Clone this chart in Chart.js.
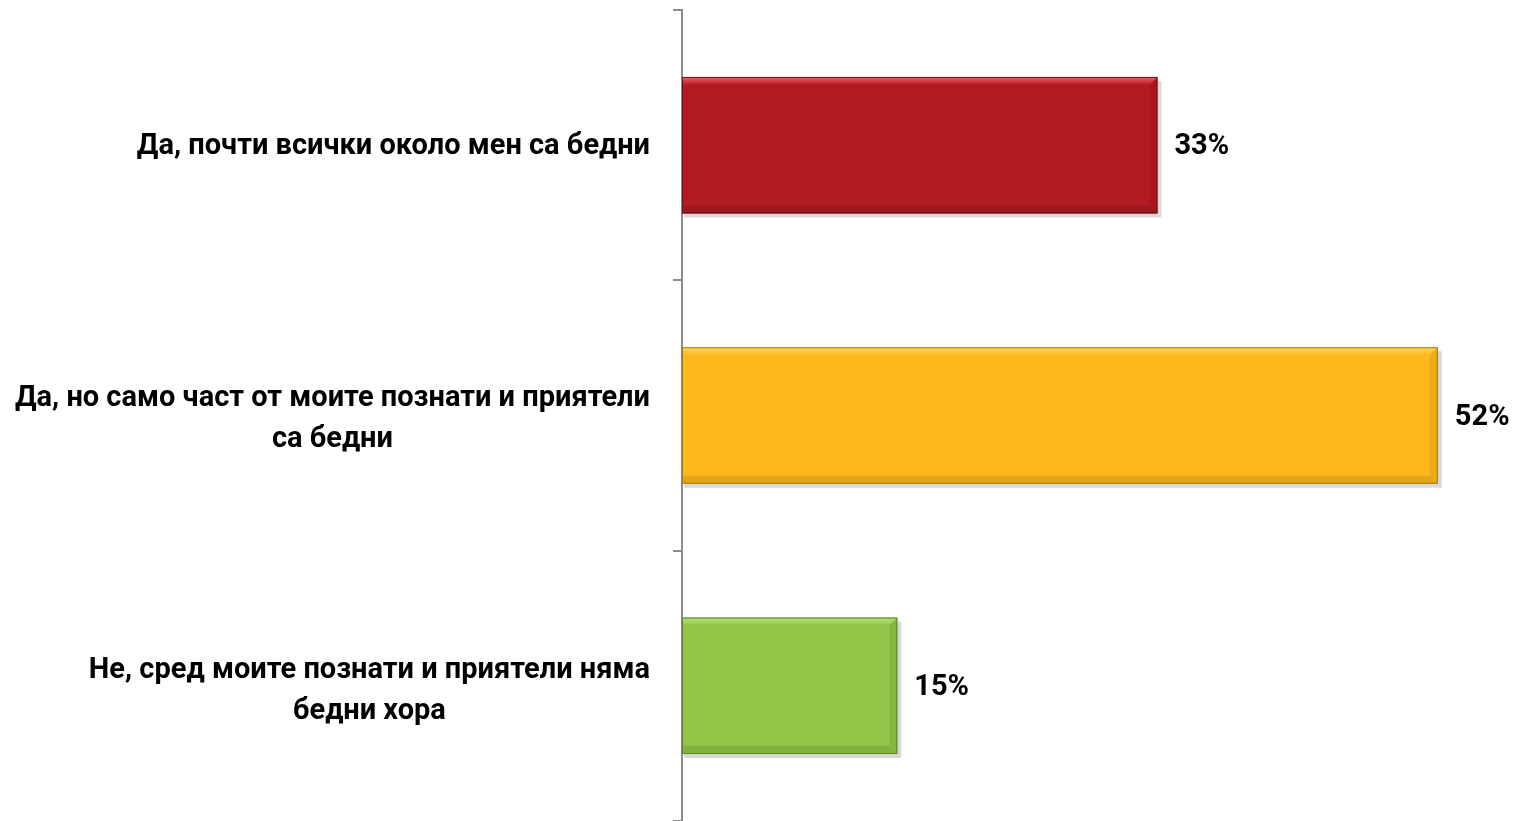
<!DOCTYPE html>
<html>
<head>
<meta charset="utf-8">
<title>Бедни хора</title>
<script src="https://cdn.jsdelivr.net/npm/chart.js@4/dist/chart.umd.min.js"></script>
<style>
  html, body { margin: 0; padding: 0; background: #ffffff; }
  #wrap { width: 1516px; height: 821px; position: relative; }
</style>
</head>
<body>
<div id="wrap"><canvas id="chart"></canvas></div>
<script>
// categories (each one is an array of the lines the label is wrapped into)
const categories = [
  ["Да, почти всички около мен са бедни"],
  ["Да, но само част от моите познати и приятели", "са бедни"],
  ["Не, сред моите познати и приятели няма", "бедни хора"]
]
// percent values for every answer (bar lengths)
const values = [32.9, 52.3, 14.9]
// value labels shown next to the bars
const valueLabels = ["33%", "52%", "15%"]
// fill colours of the bars, then the lighter top edge and darker bottom edge
const barColors = ["#B41A22", "#FDB81E", "#92C548"]
const lightEdge = ["#F0646A", "#FFD663", "#B9E37F"]
const darkEdge = ["#6E0F14", "#A87806", "#5B8726"]

const labelFont = "bold 29px Roboto, 'Open Sans', sans-serif"

// plugin: draws the bevel look on the bars, the category labels and the % labels
const drawStuff = {
  id: "drawStuff",
  beforeDatasetsDraw(chart) {
    // soft shadow under the bars
    const ctx = chart.ctx
    const meta = chart.getDatasetMeta(0)
    ctx.save()
    meta.data.forEach((bar, i) => {
      const h = bar.height
      ctx.fillStyle = "rgba(0,0,0,0.15)"
      ctx.fillRect(bar.base + 2, bar.y - h / 2 + 4, bar.x - bar.base + 2, h)
    })
    ctx.restore()
  },
  afterDatasetsDraw(chart) {
    const ctx = chart.ctx
    const meta = chart.getDatasetMeta(0)
    ctx.save()
    meta.data.forEach((bar, i) => {
      const h = bar.height
      const top = bar.y - h / 2
      const left = bar.base
      const right = bar.x
      const e = 8 // bevel size
      // top bevel, light fading into the bar colour
      const g = ctx.createLinearGradient(0, top, 0, top + e)
      g.addColorStop(0, lightEdge[i])
      g.addColorStop(1, barColors[i])
      ctx.fillStyle = g
      ctx.beginPath()
      ctx.moveTo(left, top); ctx.lineTo(right, top); ctx.lineTo(right - e, top + e); ctx.lineTo(left, top + e)
      ctx.closePath(); ctx.fill()
      // bottom bevel
      ctx.globalAlpha = 0.3
      ctx.fillStyle = darkEdge[i]
      ctx.beginPath()
      ctx.moveTo(left, top + h); ctx.lineTo(right, top + h); ctx.lineTo(right - e, top + h - e); ctx.lineTo(left, top + h - e)
      ctx.closePath(); ctx.fill()
      // right bevel
      ctx.globalAlpha = 0.2
      ctx.beginPath()
      ctx.moveTo(right, top); ctx.lineTo(right, top + h); ctx.lineTo(right - e, top + h - e); ctx.lineTo(right - e, top + e)
      ctx.closePath(); ctx.fill()
      ctx.globalAlpha = 1
      ctx.strokeStyle = darkEdge[i]
      ctx.lineWidth = 1
      ctx.strokeRect(left + 0.5, top + 0.5, right - left - 1, h - 1)

      // value label
      ctx.fillStyle = "#000000"
      ctx.font = labelFont
      ctx.textAlign = "left"
      ctx.textBaseline = "middle"
      ctx.fillText(valueLabels[i], right + 17, bar.y + 2)
    })

    // category labels: each block right aligned to the axis, lines centred inside it
    const yScale = chart.scales.y
    const lineH = 41
    ctx.font = labelFont
    ctx.fillStyle = "#000000"
    ctx.textAlign = "center"
    ctx.textBaseline = "middle"
    categories.forEach((lines, i) => {
      const w = Math.max(...lines.map(l => ctx.measureText(l).width))
      const cx = yScale.right - 32 - w / 2
      const cy = yScale.getPixelForValue(i) + 2 + i * 1.5
      lines.forEach((l, k) => {
        ctx.fillText(l, cx, cy + (k - (lines.length - 1) / 2) * lineH)
      })
    })
    ctx.restore()
  }
}

function chartMake() {
  const ctx = document.getElementById("chart")
  new Chart(ctx, {
    type: "bar",
    data: {
      labels: categories,
      datasets: [{
        data: values,
        backgroundColor: barColors,
        borderWidth: 0,
        categoryPercentage: 1,
        barPercentage: 0.505
      }]
    },
    options: {
      indexAxis: "y",
      responsive: true,
      maintainAspectRatio: false,
      animation: false,
      layout: { padding: { top: 10, right: 3, bottom: 0, left: 0 } },
      plugins: {
        legend: { display: false },
        tooltip: { enabled: false }
      },
      scales: {
        x: {
          min: 0,
          max: 57.5,
          display: false
        },
        y: {
          offset: true,
          ticks: { display: false },
          grid: {
            offset: true,
            drawOnChartArea: false,
            drawTicks: true,
            tickLength: 9,
            color: "#8c8c8c",
            lineWidth: 2
          },
          border: { display: true, color: "#8c8c8c", width: 2 },
          afterFit(scale) { scale.width = 682 }
        }
      }
    },
    plugins: [drawStuff]
  })
}

chartMake()
</script>
</body>
</html>
